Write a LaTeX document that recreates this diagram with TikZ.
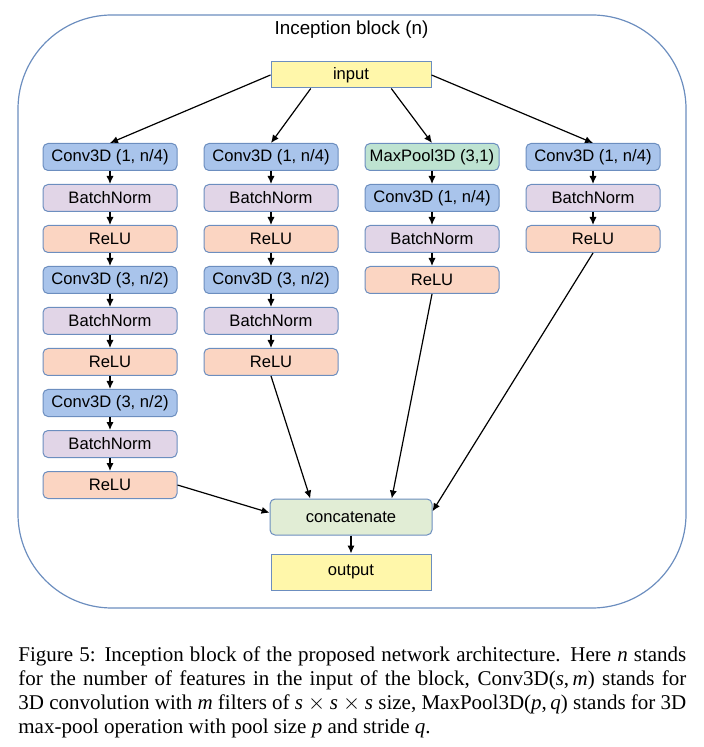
\documentclass[tikz,border=0pt]{standalone}
\usepackage{fontspec}
\setmainfont{Liberation Serif}
\newfontfamily\arial{Liberation Sans}
\usetikzlibrary{positioning, arrows.meta, calc}
\definecolor{lineblue}{HTML}{6C8EBF}
\definecolor{convblue}{HTML}{A9C4EB}
\definecolor{bnpurple}{HTML}{E1D5E7}
\definecolor{relusalmon}{HTML}{FBD5C2}
\definecolor{poolgreen}{HTML}{BEE3D1}
\definecolor{catgreen}{HTML}{E1EDD5}
\definecolor{ioyellow}{HTML}{FFF7AA}

\begin{document}
\begin{tikzpicture}[x=0.5pt,y=-0.5pt,node distance=20.5pt and 80.5pt,on grid,
    >={Latex[length=4pt,width=3.6pt]},
    box/.style={draw=lineblue,line width=0.5pt,rounded corners=2.5pt,
      minimum width=67pt,minimum height=13.5pt,inner sep=0pt,
      font=\arial\fontsize{8.3}{10}\selectfont},
    conv/.style={box,fill=convblue},
    bn/.style={box,fill=bnpurple},
    relu/.style={box,fill=relusalmon},
    pool/.style={box,fill=poolgreen},
    io/.style={box,sharp corners,fill=ioyellow,minimum width=80pt}]
  \useasboundingbox (0,0) rectangle (703,747);
  \draw[lineblue,line width=0.6pt,rounded corners=47pt] (18,15) rectangle (686,608);
  \node[font=\arial\fontsize{9.4}{11}\selectfont] (title) at (351.5,30) {Inception block (n)};
  \node[io,minimum height=13pt] (in) at (351,75) {input};

  % first branch
  \node[conv] (a_1) at (110,157) {Conv3D (1, n/4)};
  \node[bn]   (a_2) [below=of a_1] {BatchNorm};
  \node[relu] (a_3) [below=of a_2] {ReLU};
  \node[conv] (a_4) [below=of a_3] {Conv3D (3, n/2)};
  \node[bn]   (a_5) [below=of a_4] {BatchNorm};
  \node[relu] (a_6) [below=of a_5] {ReLU};
  \node[conv] (a_7) [below=of a_6] {Conv3D (3, n/2)};
  \node[bn]   (a_8) [below=of a_7] {BatchNorm};
  \node[relu] (a_9) [below=of a_8] {ReLU};
  % second branch
  \node[conv] (b_1) [right=of a_1] {Conv3D (1, n/4)};
  \node[bn]   (b_2) [below=of b_1] {BatchNorm};
  \node[relu] (b_3) [below=of b_2] {ReLU};
  \node[conv] (b_4) [below=of b_3] {Conv3D (3, n/2)};
  \node[bn]   (b_5) [below=of b_4] {BatchNorm};
  \node[relu] (b_6) [below=of b_5] {ReLU};
  % third branch
  \node[pool] (c_1) [right=of b_1] {MaxPool3D (3,1)};
  \node[conv] (c_2) [below=of c_1] {Conv3D (1, n/4)};
  \node[bn]   (c_3) [below=of c_2] {BatchNorm};
  \node[relu] (c_4) [below=of c_3] {ReLU};
  % fourth branch
  \node[conv] (d_1) [right=of c_1] {Conv3D (1, n/4)};
  \node[bn]   (d_2) [below=of d_1] {BatchNorm};
  \node[relu] (d_3) [below=of d_2] {ReLU};

  \node[box,fill=catgreen,minimum width=81pt,minimum height=18pt] (cat) at (351,517) {concatenate};
  \node[io,minimum height=18pt] (out) at (351,572) {output};

  \path[->,line width=0.6pt]
    (in.west) edge (a_1.north)
    ($(in.south)!0.5!(in.south west)$) edge (b_1.north)
    ($(in.south)!0.5!(in.south east)$) edge (c_1.north)
    (in.east) edge (d_1.north)
    (a_1) edge (a_2) (a_2) edge (a_3) (a_3) edge (a_4) (a_4) edge (a_5)
    (a_5) edge (a_6) (a_6) edge (a_7) (a_7) edge (a_8) (a_8) edge (a_9)
    (b_1) edge (b_2) (b_2) edge (b_3) (b_3) edge (b_4) (b_4) edge (b_5)
    (b_5) edge (b_6)
    (c_1) edge (c_2) (c_2) edge (c_3) (c_3) edge (c_4)
    (d_1) edge (d_2) (d_2) edge (d_3)
    (a_9.east) edge (cat.177)
    (b_6.south) edge ($(cat.north)!0.5!(cat.north west)$)
    (c_4.south) edge ($(cat.north)!0.5!(cat.north east)$)
    (d_3.south) edge (cat.4)
    (cat) edge (out);

  \node[anchor=north west,inner sep=0pt,text width=334pt,align=justify,
    font=\fontsize{10.5}{12}\selectfont] (caption) at (18,646)
    {Figure 5: Inception block of the proposed network architecture. Here \textit{n} stands\linebreak
    for the number of features in the input of the block, Conv3D(\textit{s},\,\textit{m}) stands for\linebreak
    3D convolution with \textit{m} filters of \textit{s}${}\times{}$\textit{s}${}\times{}$\textit{s} size,
    MaxPool3D(\textit{p},\,\textit{q}) stands for 3D\linebreak
    max-pool operation with pool size \textit{p} and stride \textit{q}.};
\end{tikzpicture}
\end{document}
